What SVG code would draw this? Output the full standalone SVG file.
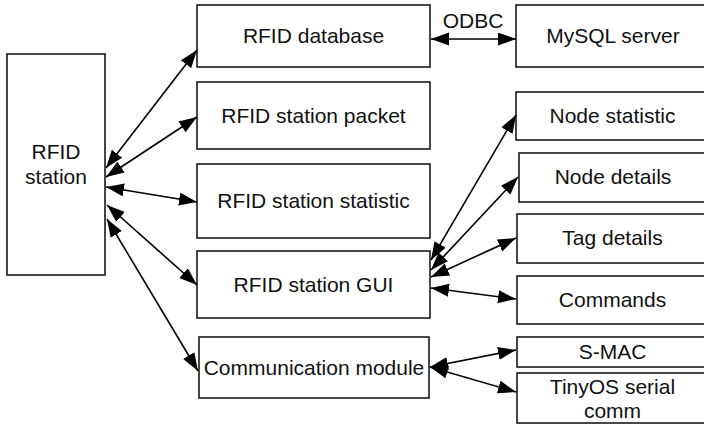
<svg xmlns="http://www.w3.org/2000/svg" width="704" height="425" viewBox="0 0 704 425">
<defs>
<marker id="ah" markerWidth="19" markerHeight="14" refX="18" refY="6.5" orient="auto-start-reverse" markerUnits="userSpaceOnUse">
<path d="M0,0 L18,6.5 L0,13 z" fill="#000"/>
</marker>
</defs>
<style>
.box{fill:#fff;stroke:#1a1a1a;stroke-width:1.6}
.t{font-family:"Liberation Sans",Arial,sans-serif;font-size:21px;fill:#111;text-anchor:middle}
.c{stroke:#000;stroke-width:1.6;fill:none;marker-start:url(#ah);marker-end:url(#ah)}
</style>
<rect width="704" height="425" fill="#fff"/>
<g id="station"><rect class="box" x="7" y="54" width="98" height="221"/><text class="t" x="56" y="159">RFID</text><text class="t" x="56" y="184">station</text></g>
<g id="database"><rect class="box" x="197" y="5" width="233" height="62"/><text class="t" x="313.5" y="43">RFID database</text></g>
<g id="packet"><rect class="box" x="197" y="82" width="233" height="67"/><text class="t" x="313.5" y="123">RFID station packet</text></g>
<g id="statistic"><rect class="box" x="197" y="164" width="233" height="74"/><text class="t" x="313.5" y="208">RFID station statistic</text></g>
<g id="gui"><rect class="box" x="197" y="251" width="233" height="67"/><text class="t" x="313.5" y="292">RFID station GUI</text></g>
<g id="comm"><rect class="box" x="199" y="337" width="230" height="61"/><text class="t" x="314" y="375">Communication module</text></g>
<g id="mysql"><rect class="box" x="516" y="5" width="192" height="62"/><text class="t" x="613" y="43">MySQL server</text></g>
<g id="nodestat"><rect class="box" x="516" y="92" width="192" height="48"/><text class="t" x="612.5" y="123">Node statistic</text></g>
<g id="nodedet"><rect class="box" x="519" y="153" width="190" height="49"/><text class="t" x="613" y="184">Node details</text></g>
<g id="tagdet"><rect class="box" x="517" y="214" width="191" height="49"/><text class="t" x="612.5" y="245">Tag details</text></g>
<g id="commands"><rect class="box" x="517" y="276" width="191" height="48"/><text class="t" x="612.5" y="307">Commands</text></g>
<g id="smac"><rect class="box" x="517" y="337" width="191" height="30"/><text class="t" x="612.5" y="359">S-MAC</text></g>
<g id="tinyos"><rect class="box" x="517" y="373" width="191" height="50"/><text class="t" x="612.5" y="394">TinyOS serial</text><text class="t" x="612.5" y="418">comm</text></g>
<g id="connectors">
<line class="c" x1="106" y1="168" x2="197" y2="50"/>
<line class="c" x1="106" y1="177" x2="197" y2="117"/>
<line class="c" x1="106" y1="187" x2="197" y2="202"/>
<line class="c" x1="107" y1="205" x2="197" y2="285"/>
<line class="c" x1="107" y1="219" x2="198" y2="371"/>
<line class="c" x1="431" y1="39" x2="516" y2="39"/>
<text class="t" x="473" y="28">ODBC</text>
<line class="c" x1="431" y1="260" x2="516" y2="115"/>
<line class="c" x1="431" y1="270" x2="518" y2="177"/>
<line class="c" x1="431" y1="277" x2="516" y2="238"/>
<line class="c" x1="431" y1="288" x2="516" y2="299"/>
<line class="c" x1="430" y1="367" x2="516" y2="350"/>
<line class="c" x1="430" y1="367" x2="516" y2="392"/>
</g>
</svg>
